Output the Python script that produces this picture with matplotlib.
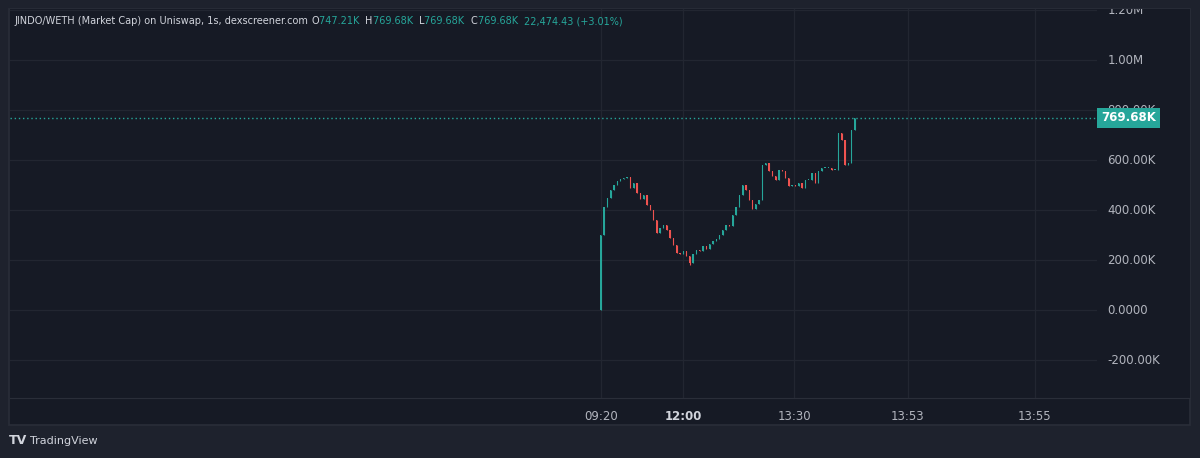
import numpy as np
import matplotlib
matplotlib.use("Agg")
import matplotlib.pyplot as plt
from matplotlib.patches import Rectangle

# --- data (market cap, thousands) ---
closes = [300, 413, 450, 480, 500, 515, 525, 530, 533, 488,
          510, 470, 445, 460, 420, 400, 360, 310, 330, 340,
          320, 290, 260, 230, 225, 235, 215, 190, 225, 240,
          235, 255, 245, 265, 275, 285, 300, 320, 340, 335,
          380, 413, 460, 500, 480, 440, 405, 425, 440, 580,
          587, 555, 535, 520, 560, 555, 530, 495, 500, 498,
          510, 487, 520, 520, 547, 510, 555, 567, 567, 570,
          560, 560, 707, 680, 580, 590, 720, 769.68]
first_open = 0
low_marks = {27: 180}   # a visible wick below the body

y_ticks = [-200, 0, 200, 400, 600, 800, 1000, 1200]
y_labels = ["-200.00K", "0.0000", "200.00K", "400.00K", "600.00K", "800.00K", "1.00M", "1.20M"]
time_labels = ["09:20", "12:00", "13:30", "13:53", "13:55"]
time_pos = [0.1, 25, 58.6, 93.1, 131.6]

header = "JINDO/WETH (Market Cap) on Uniswap, 1s, dexscreener.com"
ohlc_text = [("O", "747.21K"), ("H", "769.68K"), ("L", "769.68K"), ("C", "769.68K")]
change_text = "22,474.43 (+3.01%)"
last_label = "769.68K"

# --- colours ---
OUTER = "#1e222d"
INNER = "#161a25"
BORDER = "#2a2e39"
GRID = "#222631"
TXT = "#b2b5be"
UP = "#26a69a"
DOWN = "#ef5350"

plt.rcParams["font.family"] = ["DejaVu Sans"]

W, H = 1200, 458
fig = plt.figure(figsize=(12, 4.58), dpi=100, facecolor=OUTER)

def fx(px):
    return px / W

def fy(py):
    return 1 - py / H

# panel background and border
fig.patches.append(Rectangle((fx(9), fy(425)), fx(1190 - 9), (425 - 9) / H,
                             transform=fig.transFigure, facecolor=INNER,
                             edgecolor=BORDER, lw=1.2, zorder=-5))

ax = fig.add_axes([fx(10), fy(398), fx(1097 - 10), (398 - 9) / H])
ax.set_facecolor(INNER)
ax.set_xlim(-179, 150.4)
ax.set_ylim(-352, 1204)
for s in ax.spines.values():
    s.set_visible(False)
ax.spines["bottom"].set_visible(True)
ax.spines["bottom"].set_color(BORDER)
ax.tick_params(left=False, bottom=False, labelleft=False, labelbottom=False)

for yv in y_ticks:
    ax.axhline(yv, color=GRID, lw=0.9, zorder=1)
for xv in time_pos:
    ax.axvline(xv, color=GRID, lw=0.9, zorder=1)

# candles
opens = [first_open] + closes[:-1]
xs = np.arange(len(closes))
for i, (o, c) in enumerate(zip(opens, closes)):
    col = UP if c >= o else DOWN
    lo = min(o, c)
    hi = max(o, c)
    if i in low_marks:
        lo = low_marks[i]
    ax.vlines(xs[i], lo, hi, color=col, lw=0.8, zorder=3)
    ax.bar(xs[i], max(hi - min(o, c), 4), bottom=min(o, c), width=0.4,
           color=col, lw=0, zorder=3)

# last price dotted line
ax.axhline(closes[-1], color=UP, lw=1.0, ls=(0, (1, 2)), zorder=2)

# price axis
pax = fig.add_axes([fx(1097), fy(398), fx(1190 - 1097), (398 - 9) / H], sharey=ax)
pax.set_facecolor(INNER)
pax.set_xlim(0, 1)
for s in pax.spines.values():
    s.set_visible(False)
pax.spines["bottom"].set_visible(True)
pax.spines["bottom"].set_color(BORDER)
pax.tick_params(left=False, bottom=False, labelleft=False, labelbottom=False)
for yv, lab in zip(y_ticks, y_labels):
    pax.text(0.11, yv, lab, color=TXT, fontsize=8.5, va="center", ha="left",
             clip_on=True)
pax.add_patch(Rectangle((0.0, closes[-1] - 40), 0.68, 80, facecolor=UP,
                        edgecolor="none", zorder=5))
pax.text(0.34, closes[-1], last_label, color="white", fontsize=8.5,
         fontweight="bold", ha="center", va="center", zorder=6)

# time axis labels
for xv, lab in zip(time_pos, time_labels):
    bold = lab == "12:00"
    ax.annotate(lab, (xv, 0), xycoords=("data", "axes fraction"),
                xytext=(0, -13), textcoords="offset points", ha="center",
                va="center", fontsize=8.5, color="#d1d4dc" if bold else TXT,
                fontweight="bold" if bold else "normal", annotation_clip=False)

# header line
fig.canvas.draw()
renderer = fig.canvas.get_renderer()
x_px = 14
parts = [(header + " ", "#d1d4dc")]
for k, v in ohlc_text:
    parts.append((k, "#d1d4dc"))
    parts.append((v + "  ", UP))
parts.append((change_text, UP))
for txt, col in parts:
    t = fig.text(fx(x_px), fy(21), txt, color=col, fontsize=7.0, va="center", ha="left")
    bb = t.get_window_extent(renderer)
    x_px += bb.width

# TradingView mark
fig.text(fx(9), fy(441), "TV", color="#d1d4dc", fontsize=9, fontweight="heavy",
         va="center", ha="left")
fig.text(fx(30), fy(441), "TradingView", color="#d1d4dc", fontsize=8,
         va="center", ha="left")

fig.savefig("out.png", dpi=100, facecolor=OUTER)
